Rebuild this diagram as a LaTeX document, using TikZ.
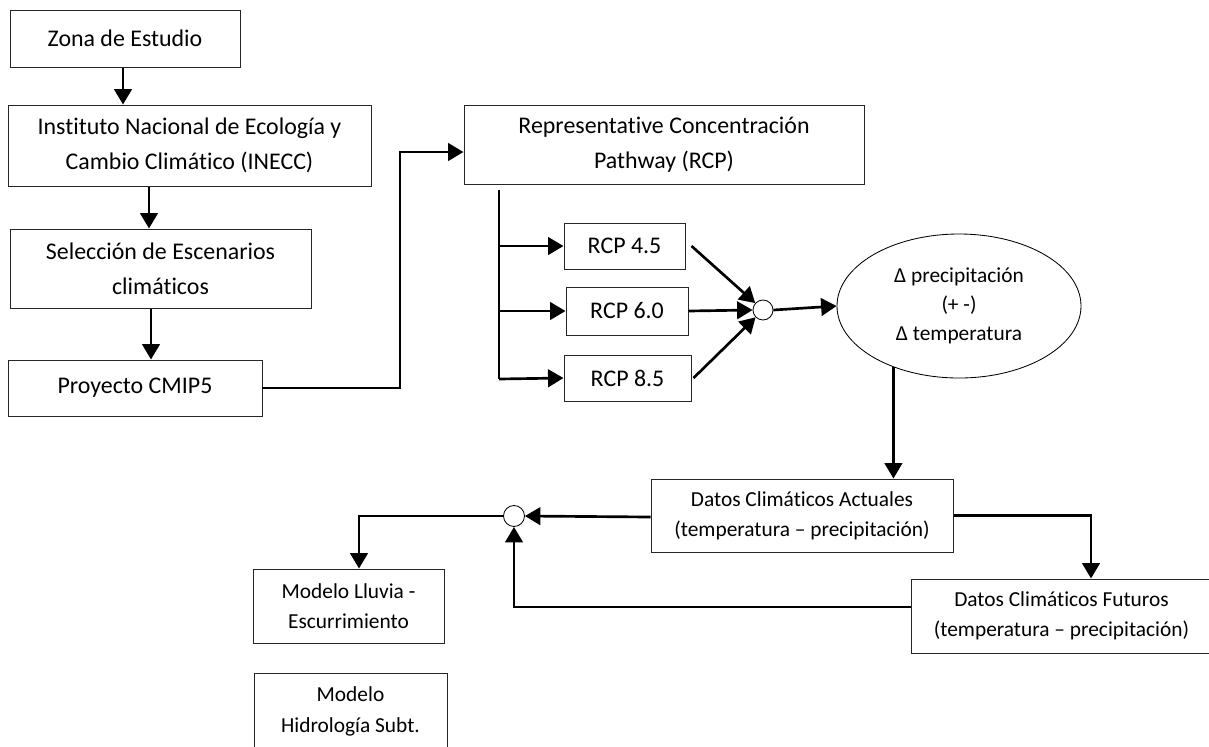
\documentclass[tikz,border=0pt]{standalone}
\usepackage{fontspec}
\setmainfont[Ligatures=NoCommon]{Carlito}
\usetikzlibrary{arrows.meta,shapes.geometric,calc}
\tikzset{
  px/.style={x=0.025cm,y=-0.025cm},
  box/.style={draw=black!85,line width=0.7pt,inner sep=0pt,align=center,font=\bigtxt},
  sbox/.style={draw=black!85,line width=0.7pt,inner sep=0pt,align=center,font=\smalltxt},
  conn/.style={line width=1.9pt,-{Triangle[length=11pt,width=12.5pt]}},
  line/.style={line width=1.9pt},
  junc/.style={circle,draw=black,line width=0.6pt,minimum size=20*0.025cm,inner sep=0pt},
}
\newcommand{\bigtxt}{\fontsize{17}{25}\selectfont}
\newcommand{\smalltxt}{\fontsize{15.2}{21.5}\selectfont}
\begin{document}
\begin{tikzpicture}[px]
\clip (0,0) rectangle (1209,746);
\useasboundingbox (0,0) rectangle (1209,746);
\fill[white] (0,0) rectangle (1209,746);
% left column
\node[box,minimum width=230*0.025cm,minimum height=57*0.025cm] (zona) at (125,38.5) {Zona de Estudio};
\node[box,minimum width=363*0.025cm,minimum height=81*0.025cm] (inecc) at (189.5,145.5) {Instituto Nacional de Ecología y\\Cambio Climático (INECC)};
\node[box,minimum width=301*0.025cm,minimum height=79*0.025cm] (selec) at (160.5,268.5) {Selección de Escenarios\\climáticos};
\node[box,minimum width=254*0.025cm,minimum height=56*0.025cm] (cmip) at (135,388) {Proyecto CMIP5};
% RCP
\node[box,minimum width=400*0.025cm,minimum height=79*0.025cm] (rcp) at (664,144.5) {Representative Concentración\\Pathway (RCP)};
\node[box,minimum width=121*0.025cm,minimum height=46*0.025cm] (r45) at (624.5,246) {RCP 4.5};
\node[box,minimum width=122*0.025cm,minimum height=48*0.025cm] (r60) at (627,311) {RCP 6.0};
\node[box,minimum width=127*0.025cm,minimum height=46*0.025cm] (r85) at (627.5,378) {RCP 8.5};
\node[junc] (c1) at (763,310) {};
\node[ellipse,draw=black,line width=0.6pt,minimum width=244*0.025cm,minimum height=144*0.025cm,inner sep=0pt,align=center,font=\fontsize{15.2}{20.8}\selectfont] (ell) at (959,306) {Δ precipitación\\(+ -)\\Δ temperatura};
% datos
\node[sbox,minimum width=302*0.025cm,minimum height=73*0.025cm] (act) at (802,515.5) {Datos Climáticos Actuales\\(temperatura – precipitación)};
\node[sbox,minimum width=301*0.025cm,minimum height=74*0.025cm] (fut) at (1061.5,616) {Datos Climáticos Futuros\\(temperatura – precipitación)};
\node[junc,minimum size=21*0.025cm] (c2) at (514,516) {};
\node[sbox,minimum width=191*0.025cm,minimum height=74*0.025cm] (lluvia) at (348.5,606) {Modelo Lluvia -\\Escurrimiento};
\node[align=center,font=\smalltxt,inner sep=0pt] (hidro) at (350.5,711.5) {Modelo\\Hidrología Subt.};
\draw[draw=black!85,line width=0.7pt] (254,780) rectangle (447,673);
% helper coordinates
\coordinate (xa) at (123,0);
\coordinate (xb) at (149,0);
\coordinate (xc) at (151,0);
\coordinate (j1) at (400,388);
\coordinate (j2) at (400,152);
\coordinate (xbus) at (499,0);
\coordinate (bus) at (499,379);
\coordinate (xf) at (1091,0);
\coordinate (xl) at (359,0);
\coordinate (yf) at (0,607);
\coordinate (ya) at (0,517);
% connectors
\draw[conn] (zona.south -| xa) -- (inecc.north -| xa);
\draw[conn] (inecc.south -| xb) -- (selec.north -| xb);
\draw[conn] (selec.south -| xc) -- (cmip.north -| xc);
\draw[conn] (cmip.east) -- (j1) -- (j2) -- (rcp.west |- j2);
\draw[line] ([yshift=-5*0.025cm]rcp.south -| xbus) -- (bus);
\draw[conn] (r45.west -| xbus) -- (r45.west);
\draw[conn] (r60.west -| xbus) -- (r60.west);
\draw[conn] (bus) -- (r85.west);
\draw[conn] ([xshift=6*0.025cm]r45.east) -- (c1);
\draw[conn] (r60.east) -- (c1.west);
\draw[conn] ([xshift=2*0.025cm]r85.east) -- (c1);
\draw[conn] (c1.east) -- (ell.west);
\draw[conn] (ell.223) -- (ell.223 |- act.north);
\draw[conn] (act.east) -| (fut.north -| xf);
\draw[conn] (act.west |- ya) -- (c2.east);
\draw[conn] (c2.west) -| (lluvia.north -| xl);
\draw[conn] (fut.west |- yf) -| (c2.south);
\end{tikzpicture}
\end{document}
